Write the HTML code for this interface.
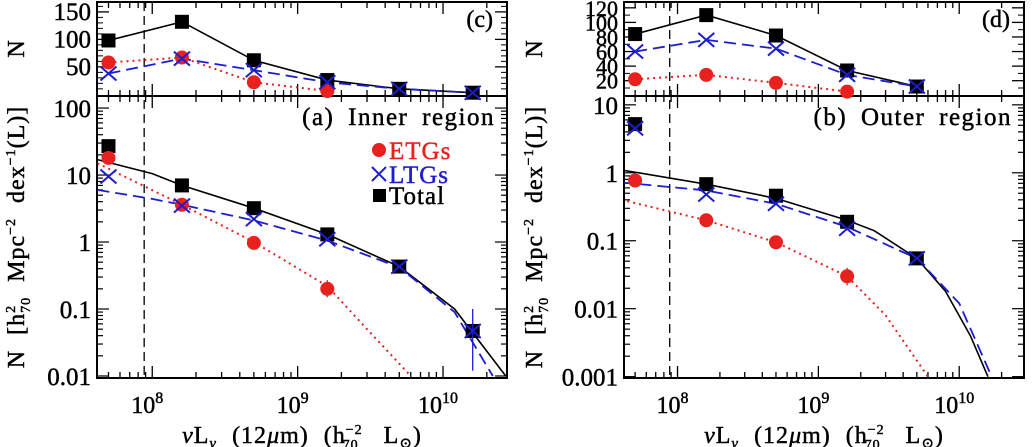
<!DOCTYPE html>
<html><head><meta charset="utf-8"><style>
html,body{margin:0;padding:0;background:#fff}
svg{display:block;font-family:"Liberation Serif","DejaVu Serif",serif}
text{stroke:currentColor;stroke-width:0.45}
</style></head><body>
<svg id="c" width="1036" height="447" viewBox="0 0 1036 447"></svg>
<script>
const xs=[5e7,1.6e8,5e8,1.6e9,5e9,1.6e10];
// Panel (c) counts
const cTotal=[98,132,62,26,10,3];
const cETG=[58,67,22,6];
const cLTG=[38,65,44,22,10,3];
// Panel (a) densities
const aTotal=[27,7,3.2,1.3,0.43,0.047];
const aETG=[18,3.6,0.97,0.2];
const aLTG=[9.5,3.5,2.2,1.1,0.43,0.047];
const aFitTotalX=[4.2e7,1e8,1.6e8,5e8,1.6e9,5e9,1.2e10,2.7e10];
const aFitTotalY=[17,10.5,7,3.2,1.3,0.43,0.1,0.01];
const aFitLTGX=[4.2e7,1e8,1.6e8,5e8,1.6e9,5e9,1.2e10,2.2e10];
const aFitLTGY=[6,4.4,3.6,2.1,1.05,0.42,0.09,0.01];
const aFitETGX=[4.2e7,1.6e8,5e8,1.6e9,3e9,6e9];
const aFitETGY=[15,3.6,1.0,0.22,0.05,0.01];
// Panel (d) counts
const dTotal=[84,110,82,34,12];
const dETG=[22,28,17,5];
const dLTG=[60,76,64,28,12];
// Panel (b) densities
const bTotal=[5.2,0.68,0.46,0.19,0.055];
const bETG=[0.77,0.2,0.095,0.03];
const bLTG=[4.5,0.48,0.35,0.15,0.055];
const bFitTotalX=[4e7,1.6e8,5e8,1.6e9,2.5e9,5e9,8e9,1.2e10,1.6e10];
const bFitTotalY=[1.1,0.68,0.42,0.2,0.14,0.055,0.018,0.004,0.001];
const bFitLTGX=[4e7,1.6e8,5e8,1.6e9,5e9,1e10,1.7e10];
const bFitLTGY=[0.72,0.55,0.35,0.16,0.055,0.012,0.001];
const bFitETGX=[4e7,1.6e8,5e8,1.6e9,3e9,6e9];
const bFitETGY=[0.4,0.2,0.095,0.03,0.008,0.001];
const cutoff=8.8e7;

const S=document.getElementById('c');const NS='http://www.w3.org/2000/svg';
function el(t,a,p){const e=document.createElementNS(NS,t);for(const k in a)e.setAttribute(k,a[k]);(p||S).appendChild(e);return e;}
function txt(s,a,p){const e=el('text',a,p);e.textContent=s;return e;}

function panel(o){
  const g=el('g',{});
  
  
  const L=o.x0,R=o.x1;
  const X=v=>L+(Math.log10(v)-o.lx0)/(o.lx1-o.lx0)*(R-L);
  const TY=v=>o.ty1-(v-o.tv0)/(o.tv1-o.tv0)*(o.ty1-o.ty0);
  const BY=v=>o.by1-(Math.log10(v)-o.lb0)/(o.lb1-o.lb0)*(o.by1-o.by0);
  const clipT='ct'+o.name,clipB='cb'+o.name;
  const cp1=el('clipPath',{id:clipT},g);el('rect',{x:L,y:o.ty0,width:R-L,height:o.ty1-o.ty0},cp1);
  const cp2=el('clipPath',{id:clipB},g);el('rect',{x:L,y:o.by0,width:R-L,height:o.by1-o.by0},cp2);
  for(let d=7;d<=10;d++)for(let m=1;m<10;m++){const v=m*Math.pow(10,d);const lv=Math.log10(v);if(lv<o.lx0||lv>o.lx1)continue;const x=X(v);const len=m==1?12:6;
    [o.ty0,o.by0].forEach(y=>el('line',{x1:x,y1:y,x2:x,y2:y+len,stroke:'#000','stroke-width':1.3},g));
    [o.ty1,o.by1].forEach(y=>el('line',{x1:x,y1:y,x2:x,y2:y-len,stroke:'#000','stroke-width':1.3},g));
    if(m==1){const t=txt('10',{x:x-5,y:o.by1+35,'font-size':24,'text-anchor':'middle'},g);const s=el('tspan',{dy:-10,'font-size':16},t);s.textContent=d;}
  }
  o.tTicks.forEach(v=>{const y=TY(v);el('line',{x1:L,y1:y,x2:L+12,y2:y,stroke:'#000','stroke-width':1.3},g);el('line',{x1:R,y1:y,x2:R-12,y2:y,stroke:'#000','stroke-width':1.3},g);txt(v,{x:L-6,y:y+8,'font-size':o.tfs,'text-anchor':'end'},g);});
  o.tMinor.forEach(v=>{const y=TY(v);el('line',{x1:L,y1:y,x2:L+6,y2:y,stroke:'#000'},g);el('line',{x1:R,y1:y,x2:R-6,y2:y,stroke:'#000'},g);});
  for(let d=Math.floor(o.lb0);d<=Math.ceil(o.lb1);d++)for(let m=1;m<10;m++){const v=m*Math.pow(10,d);const lv=Math.log10(v);if(lv<o.lb0||lv>o.lb1)continue;const y=BY(v);const len=m==1?12:6;
    el('line',{x1:L,y1:y,x2:L+len,y2:y,stroke:'#000','stroke-width':1.2},g);el('line',{x1:R,y1:y,x2:R-len,y2:y,stroke:'#000','stroke-width':1.2},g);
    if(m==1){const lab=d>=0?String(Math.pow(10,d)):(Math.pow(10,d)).toFixed(-d);txt(lab,{x:L-6,y:y+9,'font-size':25,'text-anchor':'end'},g);}
  }
  el('rect',{x:L,y:o.ty0,width:R-L,height:o.ty1-o.ty0,fill:'none',stroke:'#000','stroke-width':2},g);
  el('rect',{x:L,y:o.by0,width:R-L,height:o.by1-o.by0,fill:'none',stroke:'#000','stroke-width':2},g);
  const cx=X(cutoff);
  el('line',{x1:cx,y1:o.ty0,x2:cx,y2:o.by1,stroke:'#000','stroke-width':1.3,'stroke-dasharray':'9,5'},g);
  const poly=(xa,ya,f,st,dash,clip,w)=>{const p=el('polyline',{points:xa.map((x,i)=>X(x)+','+f(ya[i])).join(' '),fill:'none',stroke:st,'stroke-width':w||1.6,'clip-path':'url(#'+clip+')'},g);if(dash)p.setAttribute('stroke-dasharray',dash);return p;};
  const sq=(x,y,n)=>{const r=el('rect',{x:x-7,y:y-7,width:14,height:14,fill:'#000'},g);};
  const circ=(x,y,n)=>{const c=el('circle',{cx:x,cy:y,r:7,fill:'#e8201e'},g);};
  const cross=(x,y,n)=>{const p=el('path',{d:`M${x-8},${y-7}L${x+8},${y+7}M${x-8},${y+7}L${x+8},${y-7}`,stroke:'#1c1cd0','stroke-width':2,fill:'none'},g);};
  poly(xs.slice(0,o.cT.length),o.cT,TY,'#000',null,clipT,1.6);
  poly(xs.slice(0,o.cL.length),o.cL,TY,'#1c1cd0','12,6',clipT,1.8);
  poly(xs.slice(0,o.cE.length),o.cE,TY,'#e8201e','2,4',clipT,2);
  o.cT.forEach((v,i)=>sq(X(xs[i]),TY(v),'count-total-'+i));
  o.cE.forEach((v,i)=>circ(X(xs[i]),TY(v),'count-etg-'+i));
  o.cL.forEach((v,i)=>cross(X(xs[i]),TY(v),'count-ltg-'+i));
  poly(o.fTX,o.fTY,BY,'#000',null,clipB,1.6);
  poly(o.fLX,o.fLY,BY,'#1c1cd0','12,6',clipB,1.8);
  poly(o.fEX,o.fEY,BY,'#e8201e','2,4',clipB,2);
  o.bT.forEach((v,i)=>sq(X(xs[i]),BY(v),'density-total-'+i));
  o.bE.forEach((v,i)=>circ(X(xs[i]),BY(v),'density-etg-'+i));
  o.bL.forEach((v,i)=>cross(X(xs[i]),BY(v),'density-ltg-'+i));
  (o.err||[]).forEach(e=>el('line',{x1:X(xs[e[0]]),y1:BY(e[1]),x2:X(xs[e[0]]),y2:BY(e[2]),stroke:e[3],'stroke-width':1.3},g));
  txt(o.tLab,{x:R-14,y:o.ty0+25,'font-size':24,'text-anchor':'end'},g);
  txt(o.bLab,{x:R-12,y:o.by0+29,'font-size':25,'text-anchor':'end','word-spacing':'6','letter-spacing':'1.5'},g);
  const xl=txt('',{x:(L+R)/2,y:443,'font-size':24,'text-anchor':'middle','word-spacing':'8','letter-spacing':'1'},g);
  xl.innerHTML='<tspan font-style="italic">ν</tspan>L<tspan font-size="15" dy="5" font-style="italic">ν</tspan><tspan dy="-5"> (12</tspan><tspan font-style="italic">μ</tspan>m) (h<tspan font-size="14" dy="-9">−2</tspan><tspan font-size="14" dx="-20" dy="15">70</tspan><tspan dy="-6" dx="10"> L</tspan><tspan font-size="15" dy="5">⊙</tspan><tspan dy="-5">)</tspan>';
  txt('N',{x:0,y:0,'font-size':24,transform:`translate(${o.nx},${(o.ty0+o.ty1)/2}) rotate(-90)`,'text-anchor':'middle'},g);
  const yl=txt('',{x:0,y:0,'font-size':24,transform:`translate(${o.nx},${(o.by0+o.by1)/2}) rotate(-90)`,'text-anchor':'middle','word-spacing':'8','letter-spacing':'1'},g);
  yl.innerHTML='N [h<tspan font-size="14" dy="-9">2</tspan><tspan font-size="14" dx="-8" dy="15">70</tspan><tspan dy="-6"> Mpc</tspan><tspan font-size="14" dy="-9">−2</tspan><tspan dy="9"> dex</tspan><tspan font-size="14" dy="-9">−1</tspan><tspan dy="9">(L)]</tspan>';
  return g;
}

panel({name:'inner-panel',x0:97,x1:507,lx0:7.62,lx1:10.44,ty0:2,ty1:96,tv0:-3,tv1:168,by0:96,by1:378,lb0:-2.03,lb1:2.18,
  tTicks:[50,100,150],tMinor:[10,20,30,40,60,70,80,90,110,120,130,140,160],tfs:25,
  cT:cTotal,cE:cETG,cL:cLTG,bT:aTotal,bE:aETG,bL:aLTG,
  fTX:aFitTotalX,fTY:aFitTotalY,fLX:aFitLTGX,fLY:aFitLTGY,fEX:aFitETGX,fEY:aFitETGY,
  err:[[3,0.27,0.15,'#e8201e'],[5,0.1,0.012,'#1c1cd0']],
  tLab:'(c)',bLab:'(a) Inner region',nx:24});
panel({name:'outer-panel',x0:624,x1:1024,lx0:7.62,lx1:10.46,ty0:2,ty1:96,tv0:-1,tv1:128,by0:96,by1:378,lb0:-3.02,lb1:1.13,
  tTicks:[20,40,60,80,100,120],tMinor:[10,30,50,70,90,110],tfs:22,
  cT:dTotal,cE:dETG,cL:dLTG,bT:bTotal,bE:bETG,bL:bLTG,
  fTX:bFitTotalX,fTY:bFitTotalY,fLX:bFitLTGX,fLY:bFitLTGY,fEX:bFitETGX,fEY:bFitETGY,
  err:[[3,0.04,0.022,'#e8201e']],
  tLab:'(d)',bLab:'(b) Outer region',nx:542});

const lg=el('g',{});


el('circle',{cx:379,cy:150,r:7,fill:'#e8201e'},lg);
txt('ETGs',{x:389,y:159,'font-size':25,fill:'#e8201e',color:'#e8201e','letter-spacing':'1'},lg);
el('path',{d:'M372,167L386,181M372,181L386,167',stroke:'#1c1cd0','stroke-width':2},lg);
txt('LTGs',{x:389,y:183,'font-size':25,fill:'#1c1cd0',color:'#1c1cd0','letter-spacing':'1'},lg);
el('rect',{x:373,y:189,width:13,height:13,fill:'#000'},lg);
txt('Total',{x:389,y:204,'font-size':25,fill:'#000','letter-spacing':'1'},lg);
</script>
</body></html>
